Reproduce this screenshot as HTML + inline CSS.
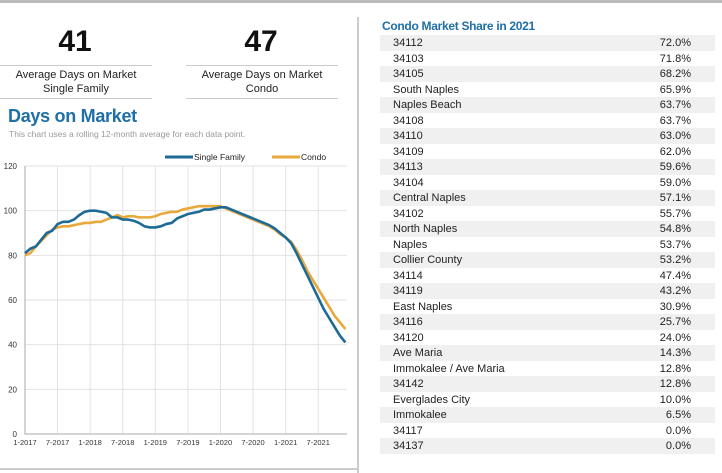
<!DOCTYPE html>
<html><head><meta charset="utf-8"><style>
body{margin:0;width:722px;height:473px;background:#fff;font-family:"Liberation Sans",sans-serif;position:relative;overflow:hidden}
.abs{position:absolute}
.big{font-weight:bold;font-size:30px;text-align:center;width:150px;color:#111}
.lbl{font-size:11px;text-align:center;width:152px;color:#222;line-height:14px;border-top:1px solid #ccc;border-bottom:1px solid #ccc;padding:2px 0}
.row{position:absolute;left:380px;width:335px;height:16px;font-size:11px;line-height:16px;color:#222}
.row span.v{position:absolute;right:24px}
.row span.k{position:absolute;left:13px}
</style></head><body>
<div class="abs" style="left:0;top:0;width:722px;height:3px;background:#bbb"></div>
<div class="abs" style="left:357px;top:17px;width:2px;height:456px;background:#ccc"></div>
<div class="abs" style="left:0;top:468px;width:357px;height:2px;background:#ccc"></div>
<div class="abs big" style="left:0;top:25px">41</div>
<div class="abs big" style="left:186px;top:25px">47</div>
<div class="abs lbl" style="left:0;top:65px">Average Days on Market<br>Single Family</div>
<div class="abs lbl" style="left:186px;top:65px">Average Days on Market<br>Condo</div>
<div class="abs" style="left:8px;top:106px;font-size:18px;font-weight:bold;color:#1f6fa8;letter-spacing:-0.3px">Days on Market</div>
<div class="abs" style="left:9px;top:129px;font-size:8.5px;color:#999">This chart uses a rolling 12-month average for each data point.</div>
<svg class="abs" style="left:0;top:0" width="357" height="473" id="chart"></svg>
<div class="abs" style="left:382px;top:19px;font-size:12px;font-weight:bold;color:#1f6fa8;letter-spacing:-0.3px">Condo Market Share in 2021</div>
<div id="table"></div>
<script>
const months=["1-2017","7-2017","1-2018","7-2018","1-2019","7-2019","1-2020","7-2020","1-2021","7-2021"];
const yTicks=[0,20,40,60,80,100,120];
const singleFamily=[81,83,84,87,90,91,94,95,95,96,98,99.5,100,100,99.5,99,97,97,96,96,95.5,94.5,93,92.5,92.5,93,94,94.5,96.5,97.5,98.5,99,99.5,100.5,100.5,101,101.5,101.5,100.5,99.5,98.5,97.5,96.5,95.5,94.5,93.5,92,90,88,85.5,81,76,71,66,61,56,52,48,44,41];
const condo=[80,81,84,86.5,89,91.5,92.5,93,93,93.5,94,94.5,94.5,95,95,96,97,98,97,97.5,97.5,97,97,97,97.5,98.5,99,99.5,99.5,100.5,101,101.5,102,102,102,102,102,101,100,99,98,97,96,95,94,93,91.5,89.5,88,86,82.5,78,73,69,65,61,57,53,50,47];
const svg=document.getElementById('chart');const NS='http://www.w3.org/2000/svg';
const x0=25,pxM=5.43,y0=434,yTop=166;
const X=i=>x0+i*pxM, Y=v=>y0-(v/120)*(y0-yTop);
function mk(t,a,p){const e=document.createElementNS(NS,t);for(const k in a)e.setAttribute(k,a[k]);(p||svg).appendChild(e);return e;}
yTicks.forEach(v=>{const g=mk('line',{x1:x0,x2:347,y1:Y(v),y2:Y(v),stroke:'#e2e2e2','stroke-width':1});

const t=mk('text',{x:17,y:Y(v)+3,'font-size':8,'text-anchor':'end',fill:'#333'});t.textContent=v;
});
months.forEach((m,i)=>{const x=X(i*6);const g=mk('line',{x1:x,x2:x,y1:yTop,y2:y0,stroke:'#e2e2e2','stroke-width':1});

const t=mk('text',{x:x,y:445,'font-size':7.5,'text-anchor':'middle',fill:'#333'});t.textContent=m;
});
const ax=mk('path',{d:`M${x0} ${yTop}V${y0}H347`,stroke:'#aaa',fill:'none'});

function line(d,c,n){const p=mk('polyline',{points:d.map((v,i)=>X(i)+','+Y(v)).join(' '),fill:'none',stroke:c,'stroke-width':2.6,'stroke-linejoin':'round'});
}
line(condo,'#e8a93a','condo-line');line(singleFamily,'#1d6a96','single-family-line');
[[165,'#1d6a96','Single Family','legend-single-family'],[272,'#e8a93a','Condo','legend-condo']].forEach(([x,c,l,n])=>{
const g=mk('g',{});
mk('line',{x1:x,x2:x+28,y1:157,y2:157,stroke:c,'stroke-width':3},g);
const t=mk('text',{x:x+29,y:160,'font-size':8.5,fill:'#222'},g);t.textContent=l;});
const names=["34112","34103","34105","South Naples","Naples Beach","34108","34110","34109","34113","34104","Central Naples","34102","North Naples","Naples","Collier County","34114","34119","East Naples","34116","34120","Ave Maria","Immokalee / Ave Maria","34142","Everglades City","Immokalee","34117","34137"];
const shares=["72.0%","71.8%","68.2%","65.9%","63.7%","63.7%","63.0%","62.0%","59.6%","59.0%","57.1%","55.7%","54.8%","53.7%","53.2%","47.4%","43.2%","30.9%","25.7%","24.0%","14.3%","12.8%","12.8%","10.0%","6.5%","0.0%","0.0%"];
const tb=document.getElementById('table');
names.forEach((n,i)=>{const r=document.createElement('div');r.className='row';r.style.top=(35+i*15.5)+'px';
if(i%2==0)r.style.background='#f0f0f0';

r.innerHTML='<span class="k">'+n+'</span><span class="v">'+shares[i]+'</span>';tb.appendChild(r);});
</script>
</body></html>
